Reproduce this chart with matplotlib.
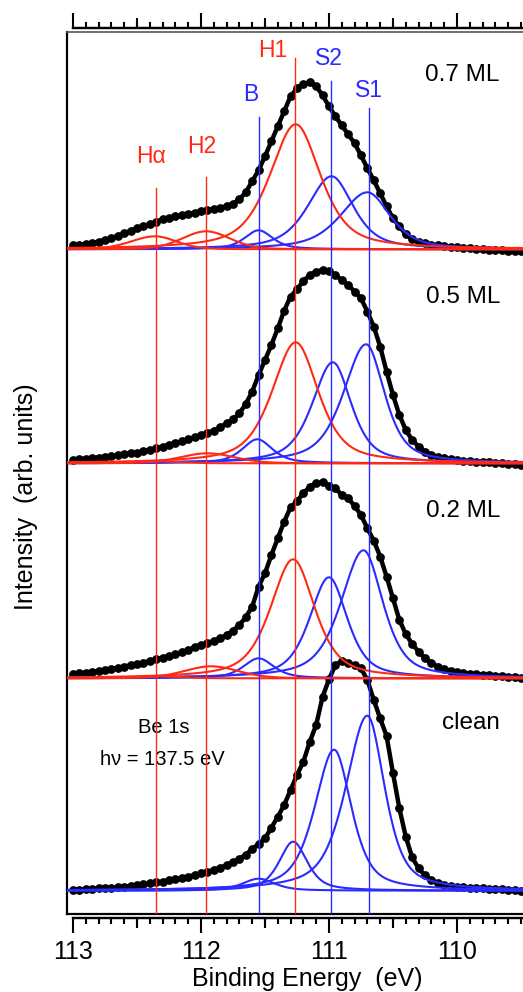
import numpy as np
import matplotlib
matplotlib.use('Agg')
import matplotlib.pyplot as plt
from matplotlib.ticker import MultipleLocator, FixedLocator, NullFormatter

plt.rcParams['font.family'] = ['Liberation Sans', 'DejaVu Sans']

# ---------------- data ----------------
energy = np.linspace(113.0, 109.5, 71)          # binding energy grid (eV), 0.05 eV steps

int_07 = [4.3, 4.7, 5.3, 6.3, 7.7, 9.3, 11, 13.5, 16, 18.5, 21, 23, 25, 27.5, 30, 31.5, 33, 34, 35, 36.5,
          38, 39, 40, 41.5, 43, 45.5, 50, 57, 68, 79, 93, 108, 123, 138, 153, 161, 165, 167, 163, 154,
          143, 133, 124, 115, 106, 94, 81, 69, 56, 43, 31, 23, 15, 10, 7, 6, 4.5, 4, 3, 2.5,
          2, 1.5, 1, 0.5, 0, -0.5, -1, -1, -1.3, -1.7, -2]
int_05 = [3.3, 4.0, 4.7, 5.3, 5.7, 6.7, 7.3, 8.3, 9.0, 10.0, 10.7, 12.0, 13.3, 15.0, 16.7, 18.3, 20.0, 22.0, 24.0, 26.0,
          28.3, 30.7, 32.7, 36.0, 40.0, 44.0, 50.0, 59.3, 71.7, 88.3, 103.3, 118.3, 135, 152.7, 166.7, 174, 182.3, 188.3, 191.7, 193.3,
          192, 188.3, 183.3, 178.3, 171.7, 165, 151.7, 136.7, 116.7, 91.7, 68.3, 48.3, 33.3, 23.3, 16.7, 11.7, 8.3, 6.7, 5.0, 4.0,
          3.3, 2.7, 2.0, 1.7, 1.3, 1.0, 0.7, 0, -0.7, -1.0, -1.7]
int_02 = [4.3, 5.0, 5.7, 6.7, 7.3, 8.3, 9.3, 10.3, 11.7, 13.0, 14.3, 15.7, 17.3, 19.0, 20.7, 22.3, 24.0, 26.0, 28.3, 31.0,
          33.3, 35.3, 37.3, 40.0, 43.3, 47.7, 53.3, 61.0, 71.7, 91.7, 105, 123.3, 140, 156.7, 171, 177.3, 185, 191.7, 195, 196,
          192.7, 190, 183.3, 180, 172.3, 163.3, 150, 137.7, 121.7, 101.7, 80, 58.3, 44.3, 34.3, 26.7, 20, 15.7, 11.7, 9.3, 7.7,
          6.3, 5.3, 4.7, 4.0, 3.7, 3.3, 2.7, 2.3, 1.7, 1.0, 0]
int_clean = [0.7, 1.0, 1.3, 1.7, 2.3, 2.7, 3.0, 3.3, 4.0, 4.7, 5.3, 6.3, 7.3, 8.3, 9.0, 10.3, 11.3, 12.7, 14.0, 15.7,
             17.3, 19.0, 20.7, 23.0, 25.7, 28.3, 31.7, 36, 41.7, 46.7, 52.3, 63, 74, 85.7, 100.7, 115.7, 129, 149, 165.7, 194,
             211.3, 225.7, 229.7, 228, 225.7, 222.3, 210.7, 190.7, 172.3, 154.7, 117.7, 82.3, 54, 33.3, 22.3, 15.3, 10.7, 8, 6, 4.7,
             3.7, 3.3, 3.0, 2.7, 2.3, 2.0, 1.7, 1.3, 1.0, 0.7, 0]

spectrum_labels = ['clean', '0.2 ML', '0.5 ML', '0.7 ML']
spectrum_offsets = [23.3, 235.7, 450.7, 664.7]

# fitted components (centre eV, height, HWHM high-BE side, HWHM low-BE side)
comp_names = ['H\u03b1', 'H2', 'B', 'H1', 'S2', 'S1']
pos_07 = [112.36, 111.96, 111.55, 111.26, 110.98, 110.70]
amp_07 = [13, 18, 19, 125, 73, 57]
whi_07 = [0.22, 0.22, 0.13, 0.24, 0.22, 0.25]
wlo_07 = [0.20, 0.22, 0.13, 0.23, 0.20, 0.21]

pos_05 = [112.36, 111.95, 111.56, 111.26, 110.97, 110.71]
amp_05 = [2, 10, 24, 121, 101, 119]
whi_05 = [0.22, 0.25, 0.14, 0.22, 0.19, 0.21]
wlo_05 = [0.22, 0.25, 0.14, 0.21, 0.17, 0.17]

pos_02 = [112.36, 111.92, 111.55, 111.28, 111.00, 110.73]
amp_02 = [2, 12, 20, 119, 101, 128]
whi_02 = [0.22, 0.25, 0.14, 0.21, 0.18, 0.21]
wlo_02 = [0.22, 0.25, 0.14, 0.20, 0.17, 0.18]

pos_clean = [111.55, 111.28, 110.96, 110.70]
amp_clean = [12, 49, 141, 175]
whi_clean = [0.15, 0.13, 0.18, 0.20]
wlo_clean = [0.15, 0.13, 0.16, 0.16]

line_energies = [112.352, 111.961, 111.543, 111.262, 110.988, 110.691]

# ---------------- style ----------------
RED = '#ff2a14'
BLUE = '#2b2bff'
comp_colors = [RED, RED, BLUE, RED, BLUE, BLUE]
comp_eta = [0.2, 0.2, 0.6, 0.6, 0.6, 0.6]

W, H = 523, 992
fig = plt.figure(figsize=(W / 100, H / 100), dpi=100)
ax = fig.add_axes([67 / W, 78 / H, 456 / W, 882 / H])
xmin, xmax = 113.047, 109.484
ax.set_xlim(xmin, xmax)
ax.set_ylim(0, 882)


def profile(E, c, a, whi, wlo, eta):
    w = np.where(E > c, whi, wlo)
    u = ((E - c) / w) ** 2
    return a * (eta / (1 + u) + (1 - eta) * np.exp(-np.log(2) * u))


Ef = np.linspace(xmin, xmax, 800)

comp_sets = [
    (pos_clean, amp_clean, whi_clean, wlo_clean, [BLUE] * 4, [0.6] * 4),
    (pos_02, amp_02, whi_02, wlo_02, comp_colors, comp_eta),
    (pos_05, amp_05, whi_05, wlo_05, comp_colors, comp_eta),
    (pos_07, amp_07, whi_07, wlo_07, comp_colors, comp_eta),
]
spectra = [int_clean, int_02, int_05, int_07]

for (pos, amp, whi, wlo, cols, etas), off in zip(comp_sets, spectrum_offsets):
    order = [i for i in range(len(pos)) if cols[i] == BLUE] + [i for i in range(len(pos)) if cols[i] == RED]
    for i in order:
        ax.plot(Ef, off + profile(Ef, pos[i], amp[i], whi[i], wlo[i], etas[i]),
                color=cols[i], lw=1.5, zorder=3, solid_joinstyle='round')

for vals, off in zip(spectra, spectrum_offsets):
    y = off + np.array(vals)
    ax.plot(energy, y, color='black', lw=3.2, zorder=2, solid_capstyle='round')
    ax.plot(energy, y, 'o', color='black', ms=6.3, mew=0, zorder=2)

line_tops = [726, 737, 797, 856, 833, 806]
for e, c, t in zip(line_energies, comp_colors, line_tops):
    ax.plot([e, e], [0, t], color=c, lw=1.0, zorder=4)

# peak labels
label_x = [112.387, 111.992, 111.613, 111.441, 111.0, 110.684]
label_y = [751, 761, 813, 857, 849, 817]
for s, c, x, y in zip(comp_names, comp_colors, label_x, label_y):
    ax.text(x, y, s, color=c, fontsize=16.5, ha='center', va='baseline', zorder=5)

ml_y = [185, 397, 611, 833]
ml_x = [109.891, 109.949, 109.949, 109.957]
for s, x, y in zip(spectrum_labels, ml_x, ml_y):
    ax.text(x, y, s, fontsize=17.5, ha='center', va='baseline', zorder=5)

ax.text(112.289, 181, 'Be 1s', fontsize=14.5, ha='center', va='baseline')
ax.text(112.305, 149, 'h\u03bd = 137.5 eV', fontsize=14.5, ha='center', va='baseline')

# frame
ax.tick_params(which='both', bottom=False, top=False, left=False, right=False,
               labelbottom=False, labelleft=False)
ax.spines['right'].set_visible(False)
ax.spines['left'].set_linewidth(1.6)
ax.spines['bottom'].set_linewidth(1.6)
ax.spines['top'].set_linewidth(1.2)
ax.spines['top'].set_color('#555555')

major = [113, 112, 111, 110]
medium = [112.5, 111.5, 110.5]
for side in ['bottom', 'top']:
    sec = ax.secondary_xaxis(side)
    sec.spines[side].set_position(('outward', 3))
    sec.spines[side].set_bounds(113.0, xmax)
    sec.spines[side].set_linewidth(1.6)
    sec.xaxis.set_major_locator(FixedLocator(major))
    sec.xaxis.set_minor_locator(MultipleLocator(0.1))
    sec.xaxis.set_minor_formatter(NullFormatter())
    sec.tick_params(which='major', direction='out', length=10.5, width=1.5, labelsize=18, pad=5)
    sec.tick_params(which='minor', direction='out', length=4.3, width=1.5)
    if side == 'top':
        sec.xaxis.set_major_formatter(NullFormatter())
    else:
        sec.set_xticklabels([str(m) for m in major])
    sec2 = ax.secondary_xaxis(side)
    sec2.spines[side].set_position(('outward', 3))
    sec2.spines[side].set_bounds(113.0, xmax)
    sec2.spines[side].set_linewidth(1.6)
    sec2.xaxis.set_major_locator(FixedLocator(medium))
    sec2.xaxis.set_major_formatter(NullFormatter())
    sec2.xaxis.set_minor_locator(FixedLocator([]))
    sec2.tick_params(which='major', direction='out', length=7.2, width=1.5)

fig.text(307 / W, 1 - 986 / H, 'Binding Energy  (eV)', fontsize=18, ha='center', va='baseline')
fig.text(26 / W, 1 - 497 / H, 'Intensity  (arb. units)', fontsize=18, ha='center', va='center',
         rotation=90)

fig.savefig('out.png', dpi=100)
